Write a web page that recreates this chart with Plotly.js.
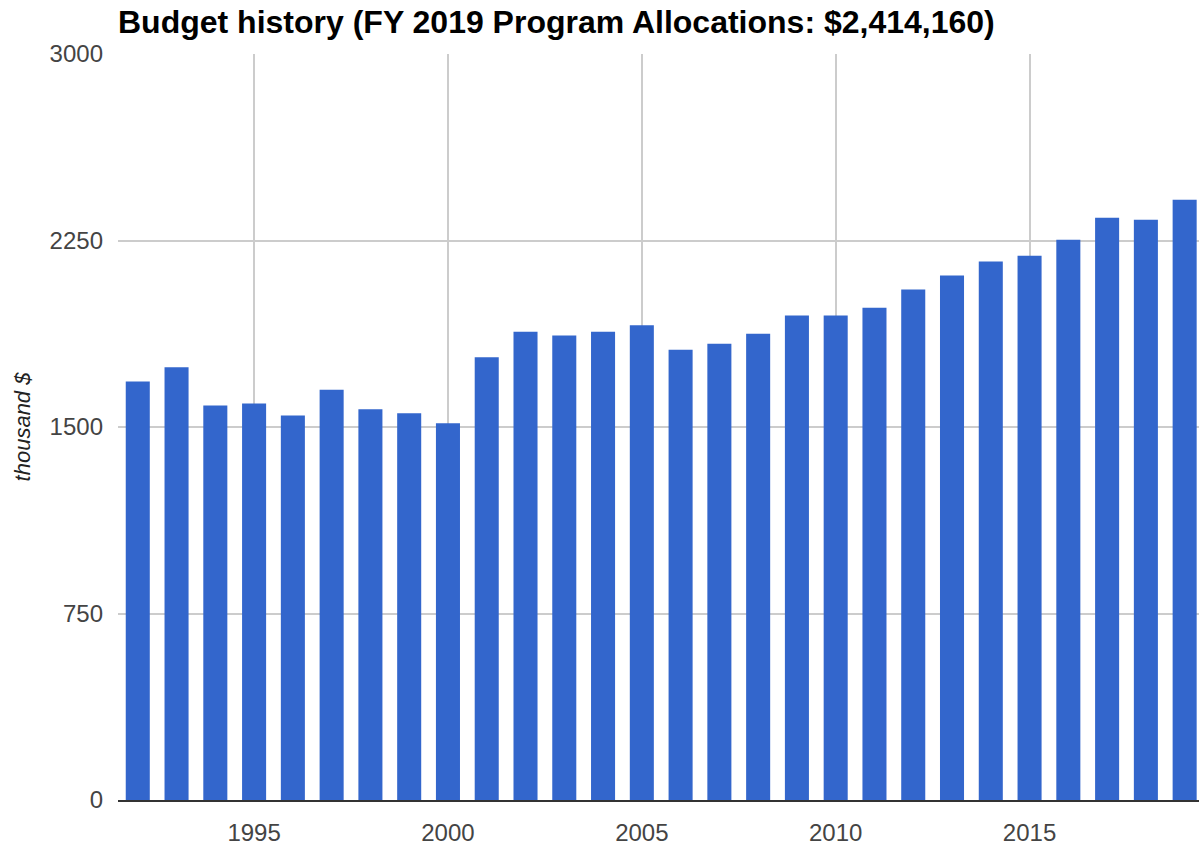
<!DOCTYPE html>
<html>
<head>
<meta charset="utf-8">
<script src="https://cdn.plot.ly/plotly-3.0.1.min.js"></script>
<style>html,body{margin:0;padding:0;background:#fff;}#chart{width:1199px;height:846px;}</style>
</head>
<body>
<div id="chart"></div>
<script>
const years = [1992,1993,1994,1995,1996,1997,1998,1999,2000,2001,2002,2003,2004,2005,2006,2007,2008,2009,2010,2011,2012,2013,2014,2015,2016,2017,2018,2019];
const allocations = [1683,1740,1586,1595,1546,1650,1571,1555,1515,1780,1883,1868,1883,1909,1811,1835,1875,1948,1948,1980,2053,2109,2166,2189,2253,2341,2333,2414.16];
const yTicks = [0,750,1500,2250,3000];
const xTicks = [1995,2000,2005,2010,2015];
const chartTitle = 'Budget history (FY 2019 Program Allocations: $2,414,160)';
const yTitle = 'thousand $';

Plotly.newPlot('chart', [{
  type: 'bar',
  x: years,
  y: allocations,
  width: 0.62,
  marker: {color: '#3366cc', line: {width: 0}},
  hoverinfo: 'x+y'
}], {
  width: 1199, height: 846,
  margin: {l: 118, r: 0, t: 54, b: 46},
  paper_bgcolor: '#fff', plot_bgcolor: '#fff',
  font: {family: 'Liberation Sans, Arial, sans-serif', color: '#444'},
  title: {text: '<b>' + chartTitle + '</b>', font: {size: 32, color: '#000', family: 'Liberation Sans, Arial, sans-serif'},
          x: 0, xref: 'paper', xanchor: 'left', y: 0.974, yref: 'container', yanchor: 'middle'},
  xaxis: {
    range: [1991.49, 2019.37],
    tickvals: xTicks, ticktext: xTicks.map(String),
    showgrid: true, gridcolor: '#cccccc', gridwidth: 2,
    zeroline: false, showline: true, linecolor: '#333', linewidth: 2,
    ticks: '', ticklabelstandoff: 10,
    tickfont: {size: 24, color: '#444'}
  },
  yaxis: {
    range: [0, 3000],
    tickvals: yTicks, ticktext: yTicks.map(String),
    showgrid: true, gridcolor: '#cccccc', gridwidth: 2,
    zeroline: false, showline: false,
    ticks: '', ticklabelstandoff: 14,
    tickfont: {size: 24, color: '#444'},
    title: {text: '<i>' + yTitle + '</i>', font: {size: 22, color: '#222'}, standoff: 12}
  },
  bargap: 0.38,
  showlegend: false
}, {displayModeBar: false, staticPlot: true});
</script>
</body>
</html>
